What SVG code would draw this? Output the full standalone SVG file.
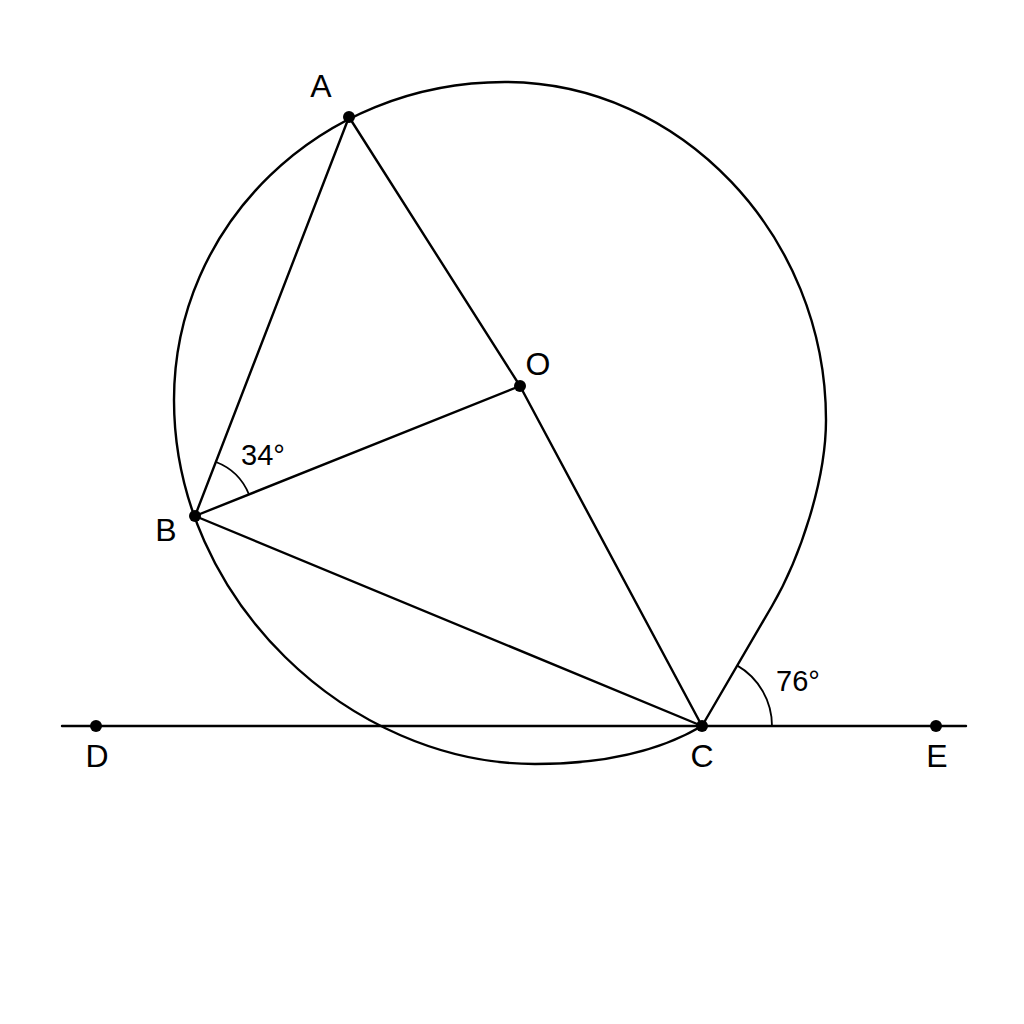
<svg xmlns="http://www.w3.org/2000/svg" width="1024" height="1024" viewBox="0 0 1024 1024">
<style>
.ln{fill:none;stroke:#000;stroke-width:2.4;stroke-linecap:round;stroke-linejoin:round}
.arc{fill:none;stroke:#000;stroke-width:1.8}
.pt{fill:#000}
.lb{font-family:"Liberation Sans",Arial,sans-serif;font-size:32px;fill:#000;text-anchor:middle}
.ang{font-family:"Liberation Sans",Arial,sans-serif;font-size:29px;fill:#000}
</style>
<rect width="1024" height="1024" fill="#fff"/>
<g id="curve">
<path class="ln" d="M702,726 L772,606 C800,558 826,480 826,420 C826,235 680,82 505,82 C320,82 174,225 174,400 C174,600 350,764 535,764 C620,764 670,745 702,726"/>
</g>
<g id="connectors">
<line class="ln" x1="62" y1="726" x2="966" y2="726"/>
<line class="ln" x1="349" y1="117" x2="195" y2="516"/>
<line class="ln" x1="349" y1="117" x2="520" y2="386"/>
<line class="ln" x1="520" y1="386" x2="702" y2="726"/>
<line class="ln" x1="195" y1="516" x2="520" y2="386"/>
<line class="ln" x1="195" y1="516" x2="702" y2="726"/>
<path class="arc" d="M216,462 A58,58 0 0 1 249,494.5"/>
<path class="arc" d="M772,726 A70,70 0 0 0 737,665.4"/>
</g>
<g id="A"><circle class="pt" cx="349" cy="117" r="6"/><text class="lb" x="321" y="97">A</text></g>
<g id="B"><circle class="pt" cx="195" cy="516" r="6"/><text class="lb" x="166" y="541">B</text></g>
<g id="O"><circle class="pt" cx="520" cy="386" r="6"/><text class="lb" x="538" y="375">O</text></g>
<g id="C"><circle class="pt" cx="702" cy="726" r="6"/><text class="lb" x="702" y="767">C</text></g>
<g id="D"><circle class="pt" cx="96" cy="726" r="6"/><text class="lb" x="97" y="767">D</text></g>
<g id="E"><circle class="pt" cx="936" cy="726" r="6"/><text class="lb" x="937" y="767">E</text></g>
<g id="angles">
<text class="ang" x="241" y="465">34°</text>
<text class="ang" x="776" y="691">76°</text>
</g>
</svg>
